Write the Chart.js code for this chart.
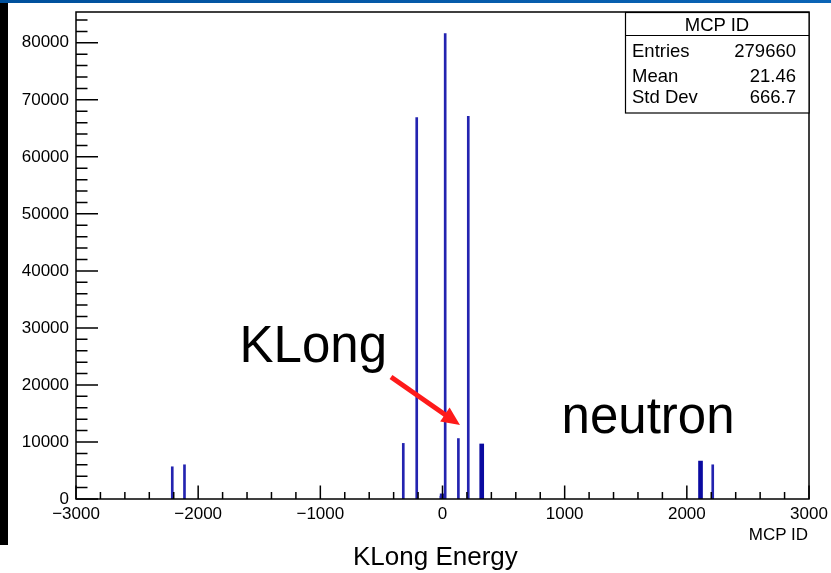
<!DOCTYPE html>
<html><head><meta charset="utf-8">
<script src="https://cdn.jsdelivr.net/npm/chart.js@4.4.1/dist/chart.umd.min.js"></script>
<style>
html,body{margin:0;padding:0;background:#fff;}
#wrap{position:relative;width:831px;height:573px;overflow:hidden;background:#fff;}
#topbar{position:absolute;left:0;top:0;width:831px;height:3px;background:linear-gradient(to right,#00509c,#0a64b6);}
#leftbar{position:absolute;left:0;top:3px;width:8px;height:542px;background:#000;}
canvas{position:absolute;left:0;top:0;}
svg{position:absolute;left:0;top:0;font-family:"Liberation Sans",Arial,sans-serif;}
</style></head><body>
<div id="wrap">
<canvas id="c" width="831" height="573"></canvas>
<div id="topbar"></div><div id="leftbar"></div>
<svg id="ov" width="831" height="573"></svg>
</div>
<script>
// ---- data (PDG particle IDs of MC particles and counts) ----
const pdgCodes  = [-2212, -2112, -321, -211, -13, -11, 11, 13, 22, 130, 211, 321, 2112, 2212];
const counts    = [5650, 6000, 9750, 66900, 500, 900, 900, 500, 81600, 10600, 67100, 9650, 6650, 6000];
const thickIds  = [321, 2112];
const xTickLabels = [-3000, -2000, -1000, 0, 1000, 2000, 3000];
const yTickLabels = [0, 10000, 20000, 30000, 40000, 50000, 60000, 70000, 80000];
const statsTitle  = "MCP ID";
const statNames   = ["Entries", "Mean", "Std Dev"];
const statValues  = ["279660", "21.46", "666.7"];
const xTitle = "MCP ID";
const bottomTitle = "KLong Energy";
const noteKLong = "KLong";
const noteNeutron = "neutron";

const thinData = [], thickData = [];
pdgCodes.forEach((id, i) => {
  (thickIds.includes(id) ? thickData : thinData).push({x: id, y: counts[i]});
});

const fmt = v => (v < 0 ? "\u2212" + Math.abs(v) : String(v));
const FONT = "Liberation Sans";

const frameTicks = {
  id: 'frameTicks',
  afterDatasetsDraw(chart) {
    const {ctx, chartArea: a, scales: {x, y}} = chart;
    ctx.save();
    ctx.strokeStyle = '#000';
    ctx.lineWidth = 1.5;
    ctx.beginPath();
    for (let v = x.min; v <= x.max + 1e-6; v += 200) {
      const px = x.getPixelForValue(v);
      const len = (Math.round(v) % 1000 === 0) ? 13.5 : 7;
      ctx.moveTo(px, a.bottom); ctx.lineTo(px, a.bottom - len);
    }
    for (let v = 0; v <= y.max; v += 2000) {
      const py = y.getPixelForValue(v);
      const len = (v % 10000 === 0) ? 22 : 11.5;
      ctx.moveTo(a.left, py); ctx.lineTo(a.left + len, py);
    }
    ctx.stroke();
    ctx.strokeRect(a.left, a.top, a.right - a.left, a.bottom - a.top);
    ctx.restore();
  }
};

new Chart(document.getElementById('c'), {
  type: 'bar',
  data: {
    datasets: [
      {data: thinData, backgroundColor: '#2323b0', barThickness: 2, grouped: false, borderWidth: 0},
      {data: thickData, backgroundColor: '#0a0aa0', barThickness: 4, grouped: false, borderWidth: 0}
    ]
  },
  options: {
    responsive: false, animation: false, devicePixelRatio: 1,
    layout: {padding: {top: 12, right: 22, left: 0, bottom: 0}},
    plugins: {legend: {display: false}, tooltip: {enabled: false}},
    scales: {
      x: {
        type: 'linear', min: -3000, max: 3000, offset: false,
        grid: {display: false, drawTicks: false}, border: {display: false},
        afterBuildTicks: s => { s.ticks = xTickLabels.map(v => ({value: v})); },
        ticks: {padding: 5, maxRotation: 0, autoSkip: false, color: '#000',
                font: {family: FONT, size: 17}, callback: v => fmt(v)},
        afterFit: s => { s.height = 74; s.paddingLeft = 0; s.paddingRight = 0; s.paddingTop = 0; s.paddingBottom = 0; }
      },
      y: {
        min: 0, max: 85400,
        grid: {display: false, drawTicks: false}, border: {display: false},
        afterBuildTicks: s => { s.ticks = yTickLabels.map(v => ({value: v})); },
        ticks: {padding: 7, color: '#000', font: {family: FONT, size: 17}, callback: v => String(v)},
        afterFit: s => { s.width = 76; s.paddingLeft = 0; s.paddingRight = 0; s.paddingTop = 0; s.paddingBottom = 0; }
      }
    }
  },
  plugins: [frameTicks]
});

// ---- overlay: stats box, annotations, titles ----
const NS = "http://www.w3.org/2000/svg";
const ov = document.getElementById('ov');
function el(tag, attrs, text) {
  const e = document.createElementNS(NS, tag);
  for (const k in attrs) e.setAttribute(k, attrs[k]);
  if (text !== undefined) e.textContent = text;
  ov.appendChild(e); return e;
}
el('rect', {x: 625.5, y: 12.5, width: 183.5, height: 100.5, fill: '#fff', stroke: '#000', 'stroke-width': 1.2});
el('line', {x1: 625, y1: 35.5, x2: 809, y2: 35.5, stroke: '#000', 'stroke-width': 1.2});
el('text', {x: 717, y: 31, 'text-anchor': 'middle', 'font-size': 18.5, fill: '#000'}, statsTitle);
const rowY = [57, 82, 103];
statNames.forEach((n, i) => {
  el('text', {x: 632, y: rowY[i], 'font-size': 18.5, fill: '#000'}, n);
  el('text', {x: 796, y: rowY[i], 'text-anchor': 'end', 'font-size': 18.5, fill: '#000'}, statValues[i]);
});
el('text', {x: 808, y: 540, 'text-anchor': 'end', 'font-size': 17, fill: '#000'}, xTitle);
el('text', {x: 353, y: 564.5, 'font-size': 26, fill: '#000'}, bottomTitle);
el('text', {x: 239.6, y: 362, 'font-size': 51, fill: '#000'}, noteKLong);
el('text', {x: 561.6, y: 433, 'font-size': 51, fill: '#000'}, noteNeutron);
el('line', {x1: 391, y1: 377, x2: 447, y2: 416, stroke: '#fe1a1a', 'stroke-width': 5});
el('polygon', {points: '460,425 449.6,407.5 440.2,421.5', fill: '#fe1a1a'});
</script>
</body></html>
